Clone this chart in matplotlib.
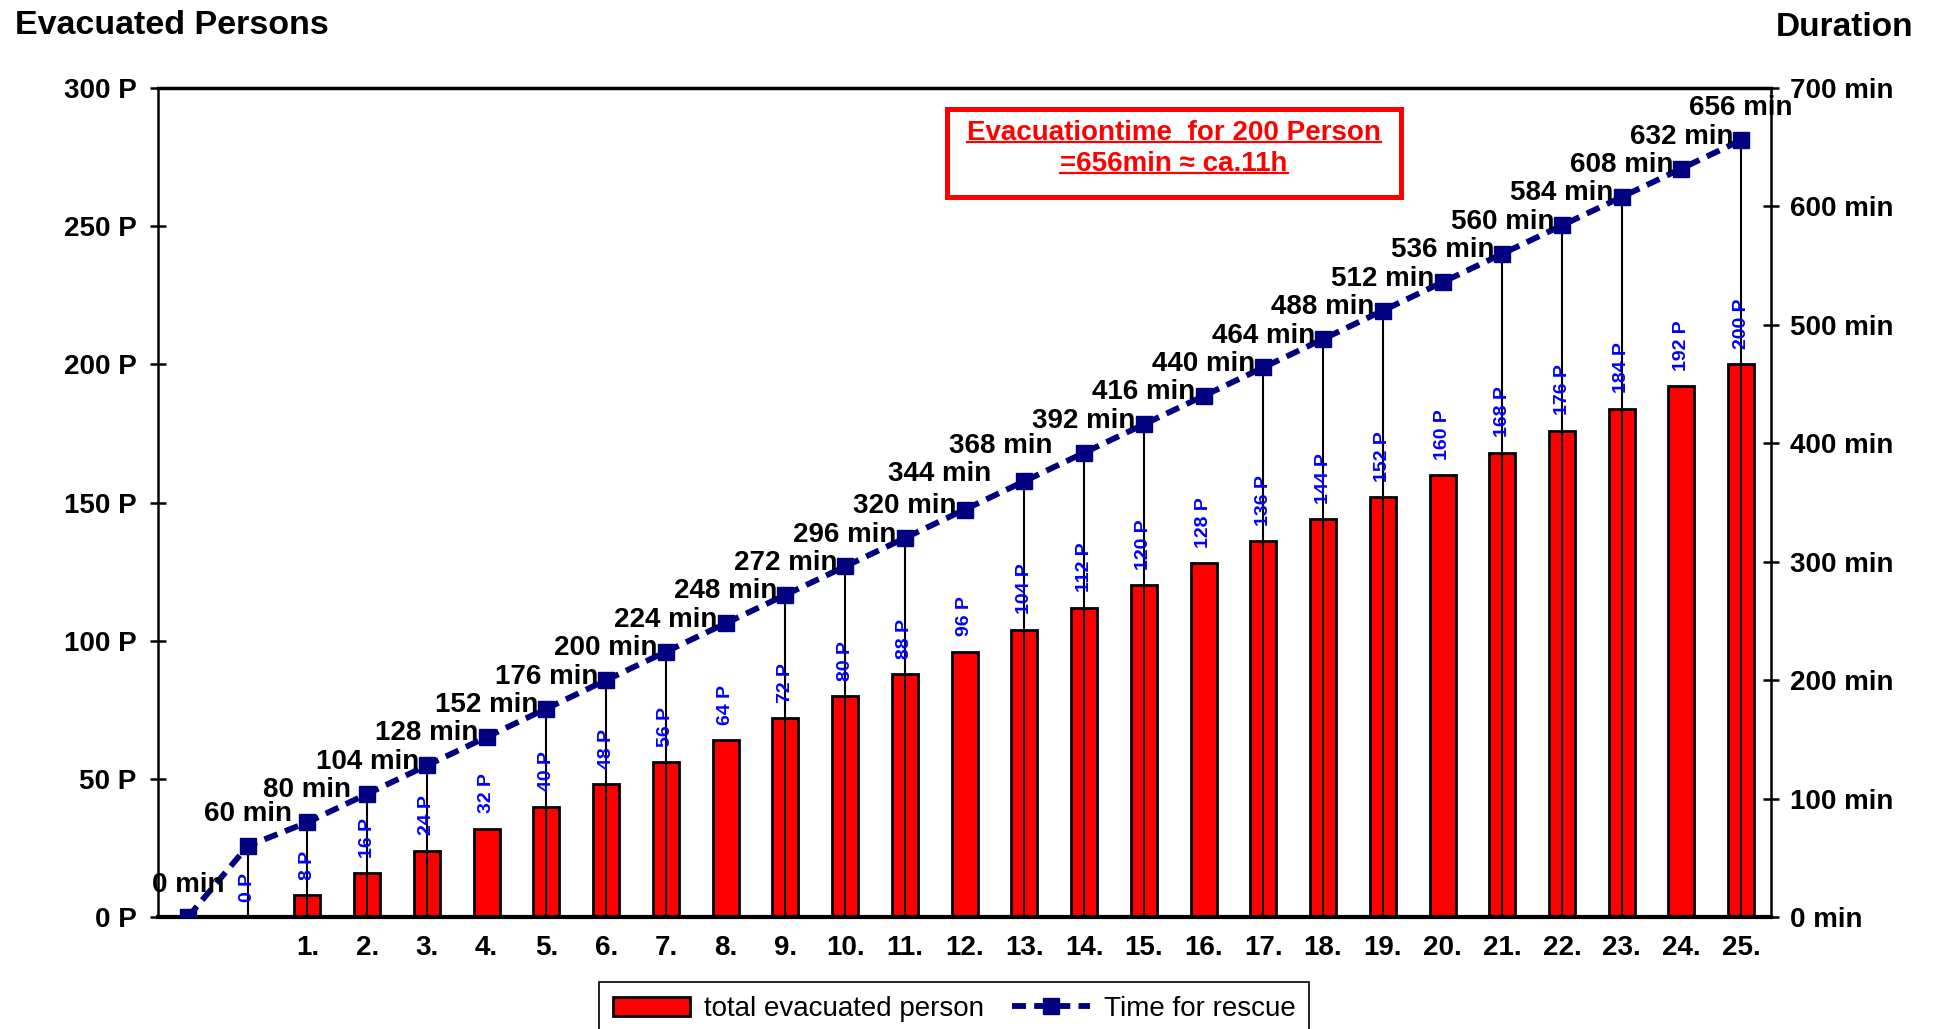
import numpy as np
import matplotlib
matplotlib.use("Agg")
import matplotlib.pyplot as plt
from matplotlib.patches import Rectangle, Patch
from matplotlib.lines import Line2D

plt.rcParams["font.family"] = ["Liberation Sans", "DejaVu Sans"]

# two unnamed start points, then the 25 rescue runs
categories = ["", "", "1.", "2.", "3.", "4.", "5.", "6.", "7.", "8.", "9.",
              "10.", "11.", "12.", "13.", "14.", "15.", "16.", "17.", "18.",
              "19.", "20.", "21.", "22.", "23.", "24.", "25."]
persons = [np.nan, 0, 8, 16, 24, 32, 40, 48, 56, 64, 72, 80, 88, 96, 104,
           112, 120, 128, 136, 144, 152, 160, 168, 176, 184, 192, 200]
minutes = [0, 60, 80, 104, 128, 152, 176, 200, 224, 248, 272, 296, 320, 344,
           368, 392, 416, 440, 464, 488, 512, 536, 560, 584, 608, 632, 656]
# categories without a drop line in the original
no_drop = ["4.", "8.", "12.", "16.", "20.", "24."]

left_ticks = [0, 50, 100, 150, 200, 250, 300]
right_ticks = [0, 100, 200, 300, 400, 500, 600, 700]

red = "#FF0000"
navy = "#000080"

fig = plt.figure(figsize=(19.35, 10.29), dpi=100)
ax = fig.add_axes([0.0817, 0.1088, 0.8336, 0.8057])

x = np.arange(len(categories))
ax.bar(x, persons, width=0.435, color=red, edgecolor="black", linewidth=2)
ax.set_xlim(-0.5, len(categories) - 0.5)
ax.set_ylim(0, 300)

ax2 = ax.twinx()
ax2.set_ylim(0, 700)

# drop lines from the time points down to the axis
for xi, cat, m in zip(x, categories, minutes):
    if m > 0 and cat not in no_drop:
        ax2.vlines(xi, 0, m, color="black", lw=1.5, zorder=2)

ax2.plot(x, minutes, color=navy, ls=(0, (2.4, 1.4)), lw=4.2, marker="s",
         ms=11.5, mfc=navy, mec=navy, zorder=3)

# labels
shift = {13: (-18, 3), 14: (-17, 2)}
for xi, m in zip(x, minutes):
    dx, dy = shift.get(xi, (0, 0))
    ax2.annotate(f"{m} min", (xi, m), xytext=(dx, 23 + dy),
                 textcoords="offset points", ha="center", va="center",
                 fontsize=20, fontweight="bold", color="black", zorder=5)

for xi, p in zip(x, persons):
    if np.isnan(p):
        continue
    ax2.annotate(f"{int(p)} P", (xi, p), xycoords=ax.transData,
                 xytext=(0, 11), textcoords="offset points", rotation=90,
                 ha="center", va="bottom", fontsize=14, fontweight="bold",
                 color="#0000FF", zorder=4)

# axes styling
ax.set_xticks(x, categories, fontsize=20, fontweight="bold")
ax.tick_params(axis="x", length=0, pad=13)
ax.set_yticks(left_ticks, [f"{v} P" for v in left_ticks], fontsize=20,
              fontweight="bold")
ax.tick_params(axis="y", direction="inout", length=11, width=1.8, pad=10)
ax2.set_yticks(right_ticks, [f"{v} min" for v in right_ticks], fontsize=20,
               fontweight="bold")
ax2.tick_params(axis="y", direction="inout", length=11, width=1.8, pad=8)

ax.spines["right"].set_visible(False)
ax.spines["left"].set_linewidth(1.8)
ax.spines["top"].set_linewidth(2.5)
ax.spines["bottom"].set_linewidth(3)
for s in ["left", "top", "bottom"]:
    ax2.spines[s].set_visible(False)
ax2.spines["right"].set_linewidth(1.8)

fig.text(15 / 1935, 1 - 25 / 1029, "Evacuated Persons", fontsize=24.5,
         fontweight="bold", ha="left", va="center")
fig.text(1913 / 1935, 1 - 27 / 1029, "Duration", fontsize=24,
         fontweight="bold", ha="right", va="center")

# red note box
fig.add_artist(Rectangle((947 / 1935, 1 - 197 / 1029), 454 / 1935, 88 / 1029,
                         transform=fig.transFigure, fill=False,
                         edgecolor=red, lw=3.6))
t1 = fig.text(0.6067, 1 - 133 / 1029, "Evacuationtime  for 200 Person",
              color=red, fontsize=20, fontweight="bold", ha="center",
              va="center")
t2 = fig.text(0.6067, 1 - 164 / 1029, "=656min \u2248 ca.11h", color=red,
              fontsize=20, fontweight="bold", ha="center", va="center")

handles = [Patch(facecolor=red, edgecolor="black", linewidth=2),
           Line2D([], [], color=navy, ls=(0, (2.4, 1.4)), lw=4.2, marker="s",
                  ms=11.5, mfc=navy, mec=navy)]
leg = fig.legend(handles, ["total evacuated person", "Time for rescue"],
                 loc="upper center", bbox_to_anchor=(0.493, 0.059), ncol=2,
                 fancybox=False, edgecolor="black", fontsize=20,
                 handlelength=2.8, handletextpad=0.5, columnspacing=1.0,
                 borderpad=0.5)
leg.get_frame().set_linewidth(1.2)
leg.get_frame().set_alpha(None)

# underline the note text
fig.canvas.draw()
r = fig.canvas.get_renderer()
inv = fig.transFigure.inverted()
for t in (t1, t2):
    bb = t.get_window_extent(r)
    (x0, y0), (x1, _) = inv.transform([[bb.x0, bb.y0 + 4], [bb.x1, bb.y1]])
    fig.add_artist(Line2D([x0, x1], [y0, y0], transform=fig.transFigure,
                          color=red, lw=1.6))

fig.savefig("out.png", dpi=100)
